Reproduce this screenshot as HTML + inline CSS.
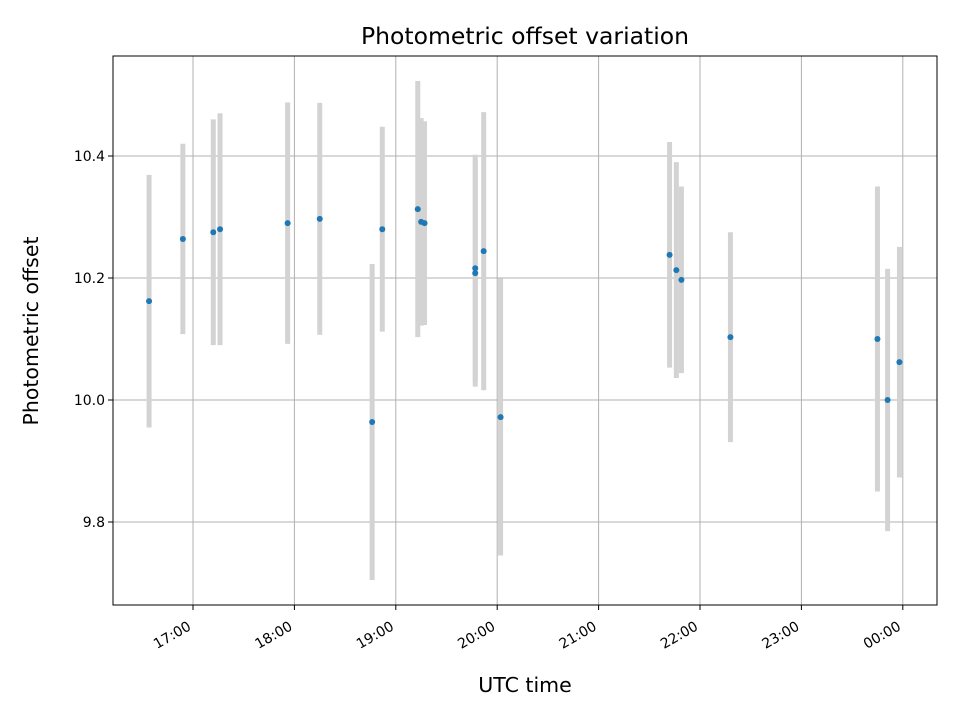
<!DOCTYPE html>
<html><head><meta charset="utf-8"><style>
body{margin:0;background:#fff;}
svg text{font-family:"DejaVu Sans","Liberation Sans",sans-serif;}
</style></head><body>
<svg id="chart" width="960" height="720" xmlns="http://www.w3.org/2000/svg">
<rect width="960" height="720" fill="#fff"/>
<g id="grid"></g><g id="bars"></g><g id="pts"></g><g id="axes"></g>
<text x="525" y="44" text-anchor="middle" font-size="23.5">Photometric offset variation</text>
<text x="525" y="692" text-anchor="middle" font-size="20.5">UTC time</text>
<text transform="translate(38,331) rotate(-90)" text-anchor="middle" font-size="20.5">Photometric offset</text>
</svg>
<script>
const times=["16:34","16:54","17:12","17:16","17:56","18:15","18:46","18:52","19:13","19:15","19:17","19:47","19:47","19:52","20:02","21:42","21:46","21:49","22:18","23:45","23:51","23:58"];
const offsets=[10.162,10.264,10.275,10.280,10.290,10.297,9.964,10.280,10.313,10.292,10.290,10.216,10.208,10.244,9.972,10.238,10.213,10.197,10.103,10.100,10.000,10.062];
const errors=[0.207,0.156,0.185,0.19,0.198,0.19,0.259,0.168,0.21,0.17,0.167,0.186,0.186,0.228,0.227,0.185,0.177,0.153,0.172,0.25,0.215,0.189];
const xTickLabels=["17:00","18:00","19:00","20:00","21:00","22:00","23:00","00:00"];
const yTicks=[9.8,10.0,10.2,10.4];
const L=113,R=937,T=56,B=605;
function toH(s){let [h,m]=s.split(":").map(Number);if(h<12)h+=24;return h+m/60;}
function xs(h){return 193+(h-17)*101.4;}
function ys(v){return 400-(v-10)*610;}
const NS="http://www.w3.org/2000/svg";
function mk(t,a,p){const e=document.createElementNS(NS,t);for(const k in a)e.setAttribute(k,a[k]);document.getElementById(p).appendChild(e);return e;}
xTickLabels.forEach(lbl=>{const x=xs(toH(lbl));
 let g=mk("line",{x1:x,x2:x,y1:T,y2:B,stroke:"#b0b0b0","stroke-width":1},"grid");
 
 mk("line",{x1:x,x2:x,y1:B,y2:B+5,stroke:"#000"},"axes");
 let t=mk("text",{x:x-1,y:B+24,"text-anchor":"end","font-size":14,transform:`rotate(-30 ${x-1} ${B+24})`},"axes");
 t.textContent=lbl;});
yTicks.forEach(v=>{const y=ys(v);
 let g=mk("line",{x1:L,x2:R,y1:y,y2:y,stroke:"#b0b0b0","stroke-width":1},"grid");
 
 mk("line",{x1:L-5,x2:L,y1:y,y2:y,stroke:"#000"},"axes");
 let t=mk("text",{x:L-8,y:y+5,"text-anchor":"end","font-size":14},"axes");
 t.textContent=v.toFixed(1);});
times.forEach((s,i)=>{const x=xs(toH(s));
 let b=mk("line",{x1:x,x2:x,y1:ys(offsets[i]+errors[i]),y2:ys(offsets[i]-errors[i]),stroke:"#d3d3d3","stroke-width":5},"bars");
 
 let c=mk("circle",{cx:x,cy:ys(offsets[i]),r:3,fill:"#1f77b4"},"pts");
 });
let f=mk("rect",{x:L,y:T,width:R-L,height:B-T,fill:"none",stroke:"#000","stroke-width":1},"axes");

</script>
</body></html>
